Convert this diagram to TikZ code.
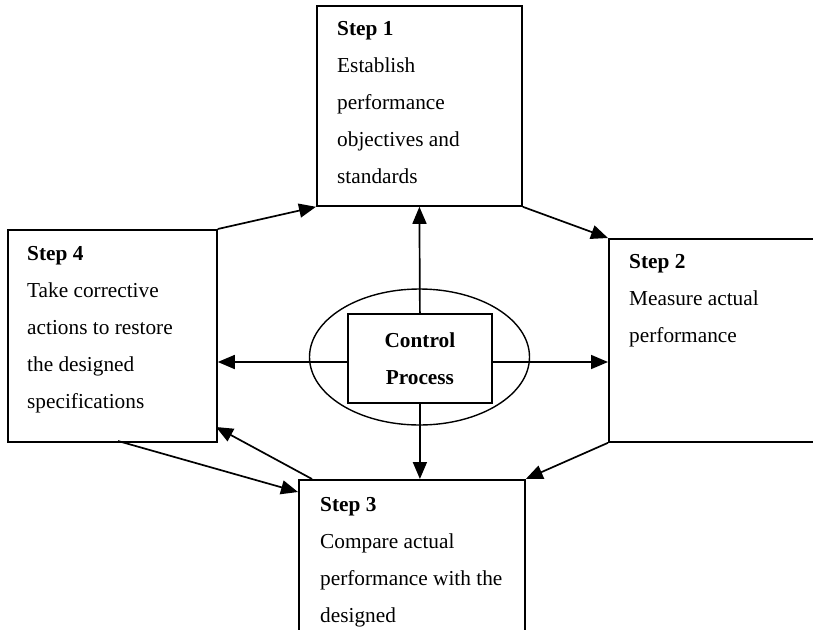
\documentclass[tikz,border=0pt]{standalone}
\usepackage{fontspec}
\setmainfont{Liberation Serif}
\usetikzlibrary{arrows.meta,shapes.geometric}
\tikzset{
  box/.style={draw, line width=1.8pt, rectangle, inner sep=0pt, anchor=north west},
  arr/.style={line width=1.7pt, -{Triangle[length=17pt,width=14pt]}},
  txt/.style={anchor=base west, inner sep=0pt, font=\fontsize{21.3}{37}\selectfont},
}
\newcommand{\steptext}[1]{\renewcommand{\arraystretch}{1}\begin{tabular}[t]{@{}l@{}}#1\end{tabular}}
\begin{document}
\begin{tikzpicture}[x=1pt,y=-1pt]
\useasboundingbox (0,0) rectangle (813,629);
\clip (0,0) rectangle (813,629);
% boxes
\node[box, minimum width=205pt, minimum height=200pt] (s1) at (316,5) {};
\node[box, minimum width=260pt, minimum height=203pt] (s2) at (608,238) {};
\node[box, minimum width=226pt, minimum height=200pt] (s3) at (298,479) {};
\node[box, minimum width=209pt, minimum height=212pt] (s4) at (7,229) {};
\node[draw, ellipse, line width=1.4pt, minimum width=220pt, minimum height=136pt, inner sep=0pt] (el) at (419.5,357) {};
\node[box, minimum width=144pt, minimum height=89pt] (cp) at (347,313) {};
% texts
\node[txt] (t1) at (337,35) {\steptext{\textbf{Step 1}\\Establish\\performance\\objectives and\\standards}};
\node[txt] (t2) at (629,268) {\steptext{\textbf{Step 2}\\Measure actual\\performance}};
\node[txt] (t3) at (320,511) {\steptext{\textbf{Step 3}\\Compare actual\\performance with the\\designed}};
\node[txt] (t4) at (27,260) {\steptext{\textbf{Step 4}\\Take corrective\\actions to restore\\the designed\\specifications}};
\node[align=center, inner sep=0pt, font=\fontsize{21.3}{37}\selectfont\bfseries] (ct) at (cp.center) {Control\\Process};
% arrows from the control process
\coordinate (hl) at (347,362);
\coordinate (hr) at (491,362);
\draw[arr] (cp.north) -- (s1.south);
\draw[arr] (cp.south) -- (cp.south |- s3.north);
\draw[arr] (hl) -- (hl -| s4.east);
\draw[arr] (hr) -- (hr -| s2.west);
% cycle arrows
\coordinate (a3) at (312,479);
\coordinate (b4) at (216,427);
\coordinate (c4) at (118,441);
\coordinate (d3) at (298,492);
\draw[arr] (s4.north east) -- (s1.south west);
\draw[arr] (s1.south east) -- (s2.north west);
\draw[arr] (s2.south west) -- (s3.north east);
\draw[arr] (a3) -- (b4);
\draw[arr] (c4) -- (d3);
\end{tikzpicture}
\end{document}
